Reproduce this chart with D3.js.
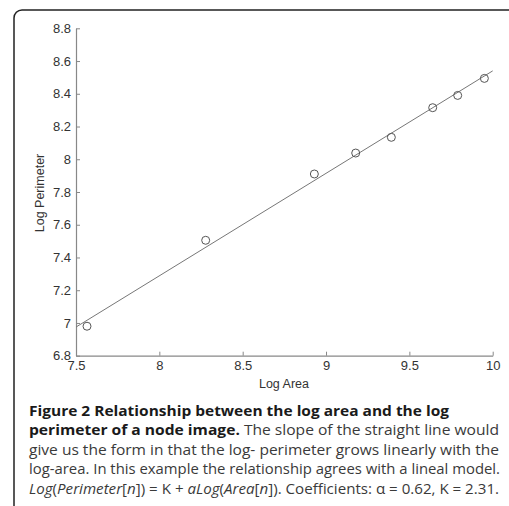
<!DOCTYPE html>
<html>
<head>
<meta charset="utf-8">
<script src="https://cdn.jsdelivr.net/npm/d3@7"></script>
<style>
  body { margin: 0; background: #fff; }
  svg { display: block; }
</style>
</head>
<body>
<div id="chart"></div>
<script>
// data
const logArea = [7.566, 8.278, 8.93, 9.178, 9.392, 9.64, 9.79, 9.95];
const logPerimeter = [6.98, 7.505, 7.91, 8.038, 8.134, 8.315, 8.39, 8.494];
const fitX = [7.5, 10];
const fitY = [6.975, 8.54];
const xTicks = [7.5, 8, 8.5, 9, 9.5, 10];
const yTicks = [6.8, 7, 7.2, 7.4, 7.6, 7.8, 8, 8.2, 8.4, 8.6, 8.8];

const width = 509;
const height = 506;

const svg = d3.select("#chart")
    .append("svg")
    .attr("width", width)
    .attr("height", height);

// outer frame, runs past the bottom right
svg.append("rect")
    .attr("x", 14)
    .attr("y", 10)
    .attr("width", 520)
    .attr("height", 520)
    .attr("rx", 8)
    .attr("fill", "none")
    .attr("stroke", "#222")
    .attr("stroke-width", 1.5);

const x = d3.scaleLinear().domain([7.5, 10]).range([76, 492.7]);
const y = d3.scaleLinear().domain([6.8, 8.8]).range([355.7, 28.3]);

const axisColor = "#888";
const font = "'Liberation Sans', Arial, sans-serif";

// x axis (ticks inside)
const gx = svg.append("g")
    .attr("transform", `translate(0,${y(6.8)})`)
    .call(d3.axisBottom(x).tickValues(xTicks).tickSizeInner(-4).tickSizeOuter(0)
        .tickFormat(d3.format("")).tickPadding(7));
gx.select(".domain").attr("stroke", axisColor).attr("stroke-width", 1.2);
gx.selectAll(".tick line").attr("stroke", axisColor);
gx.selectAll(".tick text")
    .attr("fill", "#333")
    .attr("font-family", font)
    .attr("font-size", "13px")
    .attr("y", 5);

// y axis (ticks inside)
const gy = svg.append("g")
    .attr("transform", `translate(${x(7.5)},0)`)
    .call(d3.axisLeft(y).tickValues(yTicks).tickSizeInner(-4).tickSizeOuter(0)
        .tickFormat(d3.format("")).tickPadding(5));
gy.select(".domain").attr("stroke", axisColor).attr("stroke-width", 1.2);
gy.selectAll(".tick line").attr("stroke", axisColor);
gy.selectAll(".tick text")
    .attr("fill", "#333")
    .attr("font-family", font)
    .attr("font-size", "13px");

// fitted line
svg.append("line")
    .attr("x1", x(fitX[0])).attr("y1", y(fitY[0]))
    .attr("x2", x(fitX[1])).attr("y2", y(fitY[1]))
    .attr("stroke", "#777")
    .attr("stroke-width", 1);

// points
svg.selectAll("circle.pt")
    .data(logArea)
    .enter().append("circle")
    .attr("class", "pt")
    .attr("cx", d => x(d))
    .attr("cy", (d, i) => y(logPerimeter[i]))
    .attr("r", 4)
    .attr("fill", "none")
    .attr("stroke", "#555")
    .attr("stroke-width", 1);

// axis labels
svg.append("text")
    .attr("x", 284)
    .attr("y", 388)
    .attr("text-anchor", "middle")
    .attr("font-family", font)
    .attr("font-size", "12.5px")
    .attr("fill", "#333")
    .text("Log Area");

svg.append("text")
    .attr("transform", "translate(44,193) rotate(-90)")
    .attr("text-anchor", "middle")
    .attr("font-family", font)
    .attr("font-size", "12.5px")
    .attr("fill", "#333")
    .text("Log Perimeter");

// caption
const capFont = "'Open Sans', 'Noto Sans', sans-serif";
const capLines = [
    { y: 415.5, len: 420, parts: [["Figure 2 Relationship between the log area and the log", "bold", "normal"]] },
    { y: 435.2, len: 470, parts: [["perimeter of a node image.", "bold", "normal"],
        [" The slope of the straight line would", "normal", "normal"]] },
    { y: 454.8, len: 470, parts: [["give us the form in that the log- perimeter grows linearly with the", "normal", "normal"]] },
    { y: 474.4, len: 471, parts: [["log-area. In this example the relationship agrees with a lineal model.", "normal", "normal"]] },
    { y: 494, len: 470, parts: [["Log", "normal", "italic"], ["(", "normal", "normal"], ["Perimeter", "normal", "italic"],
        ["[", "normal", "normal"], ["n", "normal", "italic"], ["]) = ", "normal", "normal"], ["K", "normal", "normal"],
        [" + ", "normal", "normal"], ["aLog", "normal", "italic"], ["(", "normal", "normal"], ["Area", "normal", "italic"],
        ["[", "normal", "normal"], ["n", "normal", "italic"], ["]). Coefficients: α = 0.62, K = 2.31.", "normal", "normal"]] }
];

capLines.forEach(function (line) {
    const t = svg.append("text")
        .attr("x", 29)
        .attr("y", line.y)
        .attr("font-family", capFont)
        .attr("font-size", "14.5px")
        .attr("fill", "#3a3a3a")
        .attr("textLength", line.len)
        .attr("lengthAdjust", "spacingAndGlyphs")
        .attr("xml:space", "preserve");
    line.parts.forEach(function (p) {
        t.append("tspan")
            .attr("font-weight", p[1])
            .attr("font-style", p[2])
            .attr("fill", p[1] == "bold" ? "#1a1a1a" : "#3a3a3a")
            .text(p[0]);
    });
});
</script>
</body>
</html>
